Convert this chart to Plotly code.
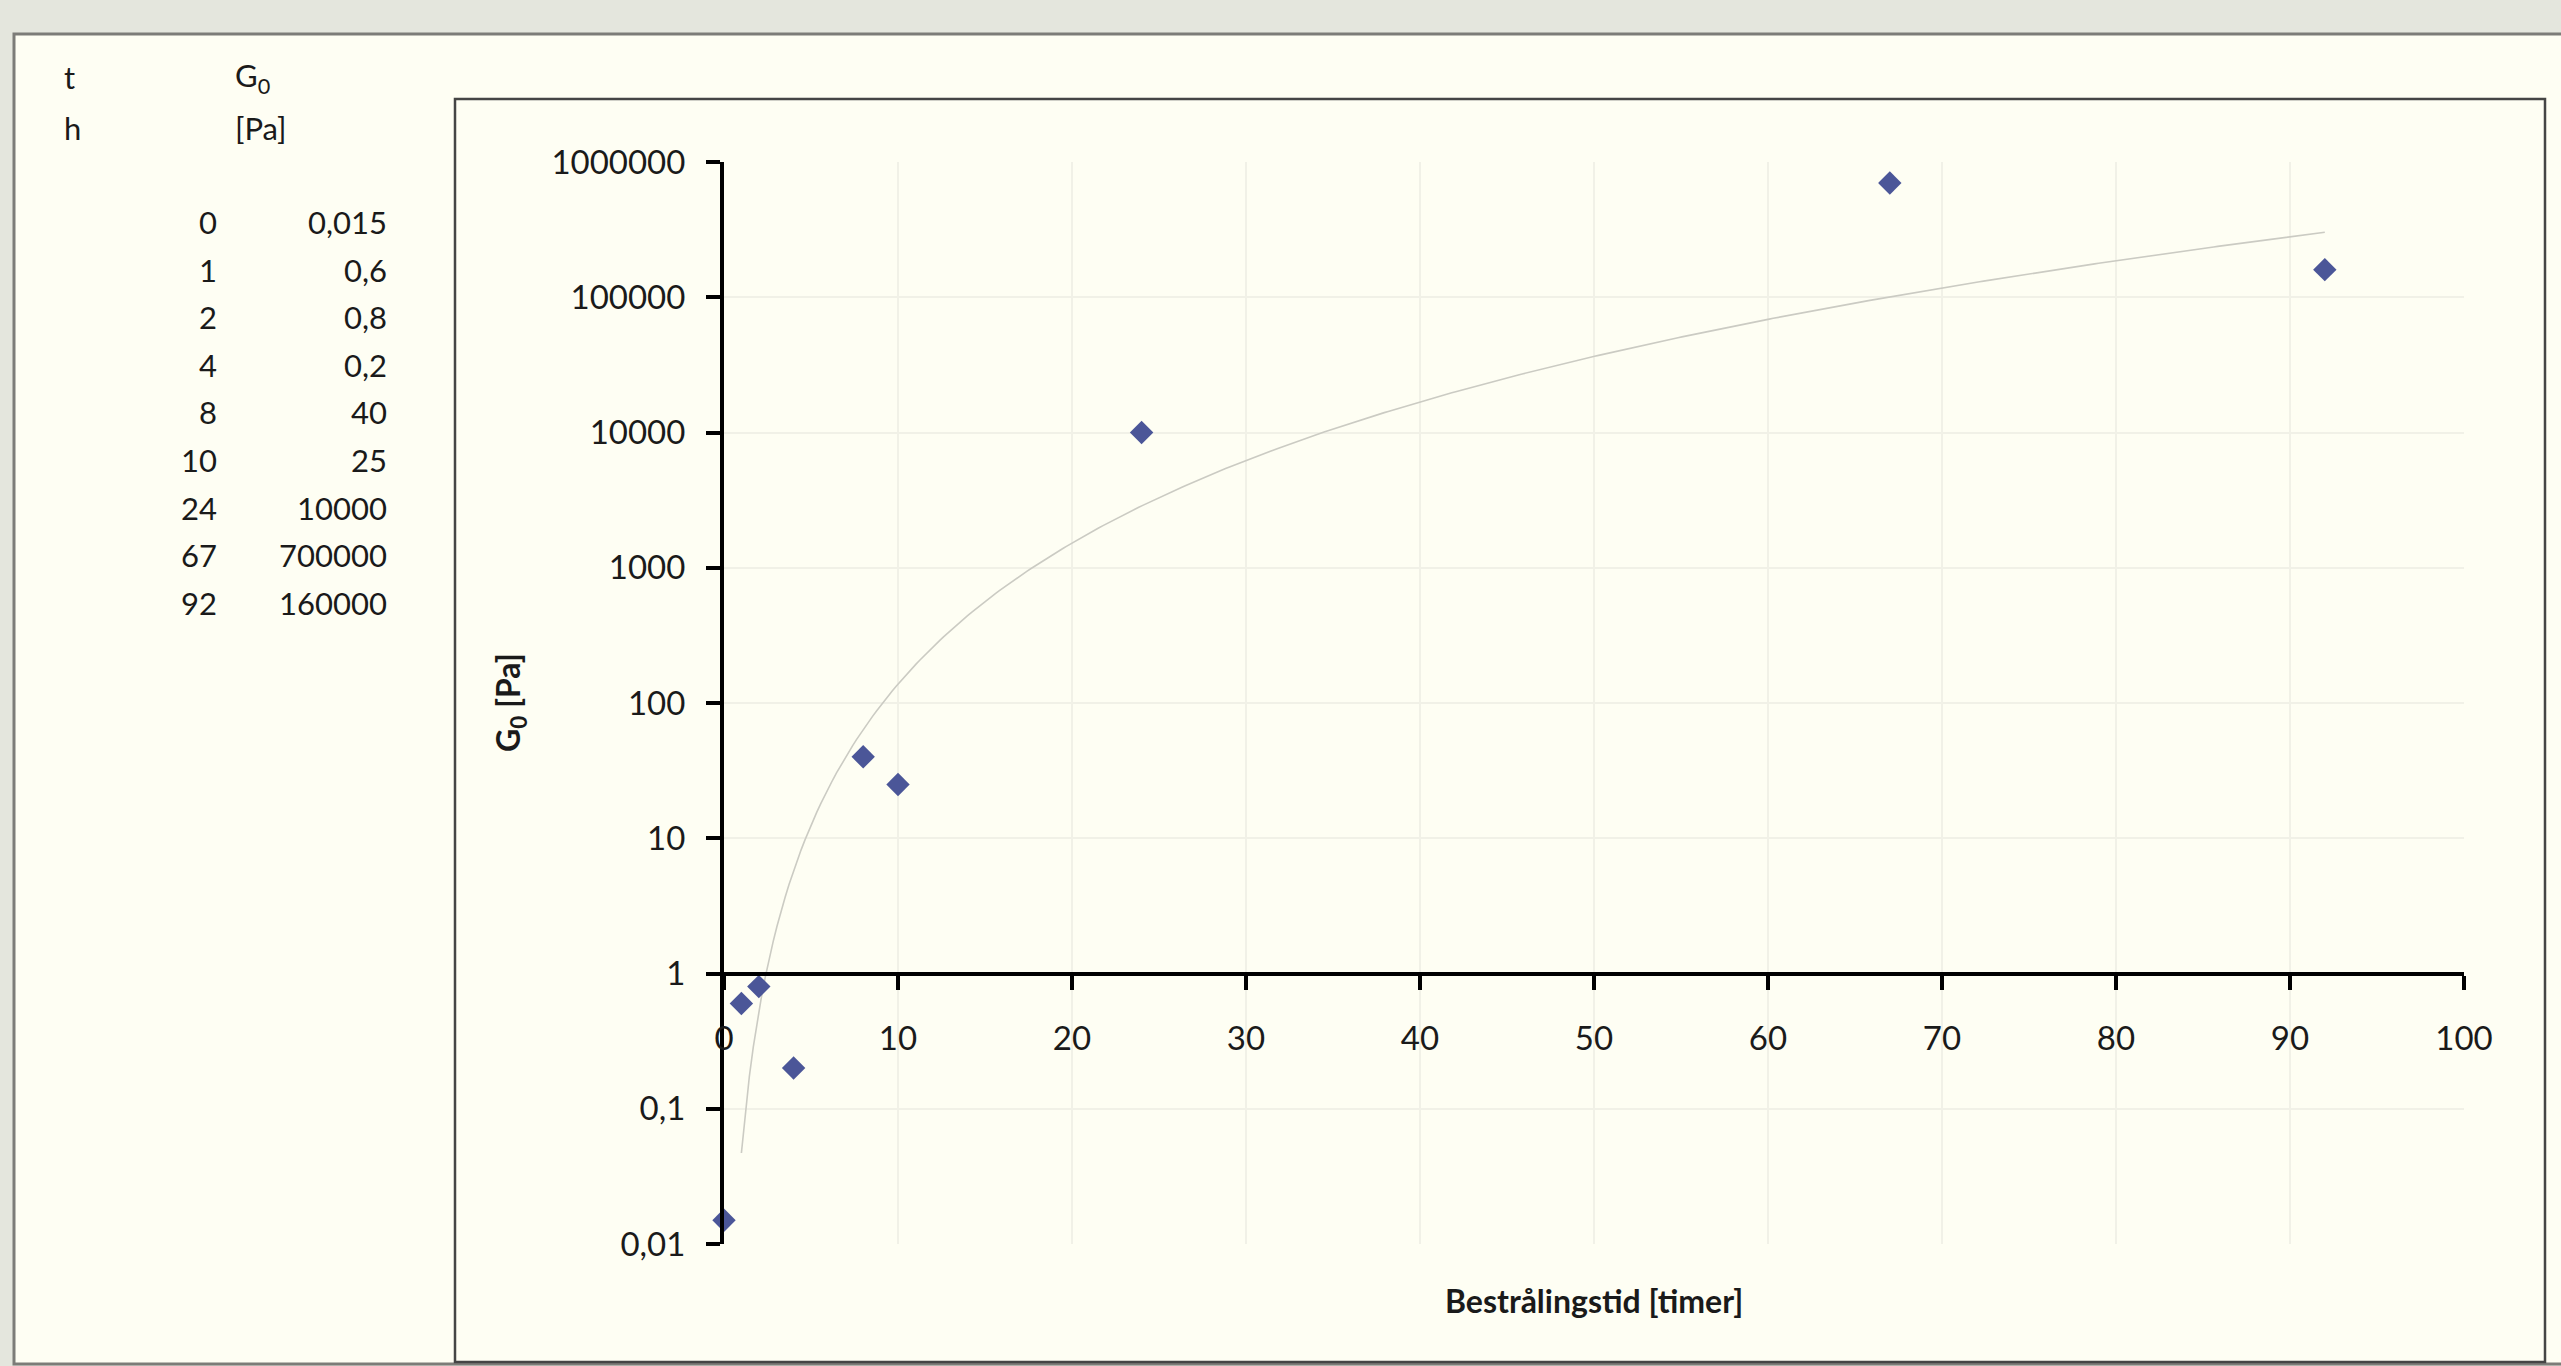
import numpy as np
import plotly.graph_objects as go

# ---------------- data ----------------
t_hours = [0, 1, 2, 4, 8, 10, 24, 67, 92]
g0_pa = [0.015, 0.6, 0.8, 0.2, 40, 25, 10000, 700000, 160000]

xtick_vals = [0, 10, 20, 30, 40, 50, 60, 70, 80, 90, 100]
ytick_vals = [0.01, 0.1, 1, 10, 100, 1000, 10000, 100000, 1000000]
ytick_text = ["0,01", "0,1", "1", "10", "100", "1000", "10000", "100000", "1000000"]

x_title = "Bestrålingstid [timer]"
y_title = "G<sub>0</sub> [Pa]"
table_head_t = ["t", "h"]
table_head_g = ["G<sub>0</sub>", "[Pa]"]

# ---------------- geometry (pixels) ----------------
W, H = 2561, 1366
PL, PR, PT, PB = 724, 2464, 162, 1244  # plot area


def px_x(X):
    return (X - PL) / (PR - PL)


def px_y(Y):
    return (PB - Y) / (PB - PT)


FONT = "Lato, 'Open Sans', sans-serif"
TXT = "#1a1a1a"

# power trendline (Excel-style) fitted in log-log space on positive x
xs = np.array([t for t in t_hours if t > 0], dtype=float)
ys = np.array([g for t, g in zip(t_hours, g0_pa) if t > 0], dtype=float)
b, loga = np.polyfit(np.log10(xs), np.log10(ys), 1)
xfit = np.linspace(xs.min(), xs.max(), 400)
yfit = 10 ** loga * xfit ** b

fig = go.Figure()
fig.add_trace(go.Scatter(
    x=xfit, y=yfit, mode="lines",
    line=dict(color="#cbcbc3", width=1.6),
    hoverinfo="skip", showlegend=False,
))
fig.add_trace(go.Scatter(
    x=t_hours, y=g0_pa, mode="markers",
    marker=dict(symbol="diamond", size=18, color="#4b5698", line=dict(width=0)),
    cliponaxis=False, showlegend=False,
))

shapes = [
    # outer panel
    dict(type="rect", xref="paper", yref="paper", layer="below",
         x0=px_x(14), x1=px_x(2620), y0=px_y(34), y1=px_y(1364),
         fillcolor="#fefef3", line=dict(color="#7c7c78", width=3)),
    # inner chart frame
    dict(type="rect", xref="paper", yref="paper", layer="below",
         x0=px_x(455), x1=px_x(2545), y0=px_y(99), y1=px_y(1362),
         fillcolor="#fefef3", line=dict(color="#454545", width=2.5)),
]

annotations = []
# table headers
for i, s in enumerate(table_head_t):
    annotations.append(dict(x=px_x(62), y=px_y(77 + i * 51), xref="paper", yref="paper",
                            text=s, showarrow=False, xanchor="left", yanchor="middle",
                            font=dict(family=FONT, size=31, color=TXT)))
for i, s in enumerate(table_head_g):
    annotations.append(dict(x=px_x(233), y=px_y(77 + i * 51), xref="paper", yref="paper",
                            text=s, showarrow=False, xanchor="left", yanchor="middle",
                            font=dict(family=FONT, size=31, color=TXT)))
# table rows
for i, (t, g) in enumerate(zip(t_hours, g0_pa)):
    yy = px_y(222 + i * 47.6)
    annotations.append(dict(x=px_x(219), y=yy, xref="paper", yref="paper",
                            text=f"{t:g}", showarrow=False, xanchor="right", yanchor="middle",
                            font=dict(family=FONT, size=31, color=TXT)))
    annotations.append(dict(x=px_x(389), y=yy, xref="paper", yref="paper",
                            text=f"{g:g}".replace(".", ","), showarrow=False,
                            xanchor="right", yanchor="middle",
                            font=dict(family=FONT, size=31, color=TXT)))
# axis titles
annotations.append(dict(x=0.5, y=px_y(1300), xref="paper", yref="paper",
                        text=f"<b>{x_title}</b>", showarrow=False,
                        xanchor="center", yanchor="middle",
                        font=dict(family=FONT, size=32, color=TXT)))
annotations.append(dict(x=px_x(510), y=0.5, xref="paper", yref="paper",
                        text=f"<b>{y_title}</b>", showarrow=False, textangle=-90,
                        xanchor="center", yanchor="middle",
                        font=dict(family=FONT, size=32, color=TXT)))

fig.update_layout(
    width=W, height=H,
    margin=dict(l=PL, r=W - PR, t=PT, b=H - PB, pad=0),
    paper_bgcolor="#e4e6dd",
    plot_bgcolor="rgba(0,0,0,0)",
    shapes=shapes,
    annotations=annotations,
    showlegend=False,
    xaxis=dict(
        range=[0, 100], tickvals=xtick_vals, ticktext=[str(v) for v in xtick_vals],
        anchor="free", position=0.25,
        showline=True, linecolor="#000000", linewidth=4,
        ticks="outside", ticklen=14, tickwidth=4, tickcolor="#000000",
        ticklabelstandoff=21,
        showgrid=True, gridcolor="#f1f1e7", gridwidth=2,
        zeroline=False,
        tickfont=dict(family=FONT, size=33, color=TXT),
    ),
    yaxis=dict(
        type="log", range=[-2, 6], tickvals=ytick_vals, ticktext=ytick_text,
        showline=True, linecolor="#000000", linewidth=4,
        ticks="outside", ticklen=14, tickwidth=4, tickcolor="#000000",
        ticklabelstandoff=14,
        showgrid=True, gridcolor="#f1f1e7", gridwidth=2,
        zeroline=False,
        tickfont=dict(family=FONT, size=33, color=TXT),
    ),
)

fig.write_html(
    "out.html",
    config={"displayModeBar": False},
    post_script="document.body.style.margin='0px';document.body.style.overflow='hidden';",
)
